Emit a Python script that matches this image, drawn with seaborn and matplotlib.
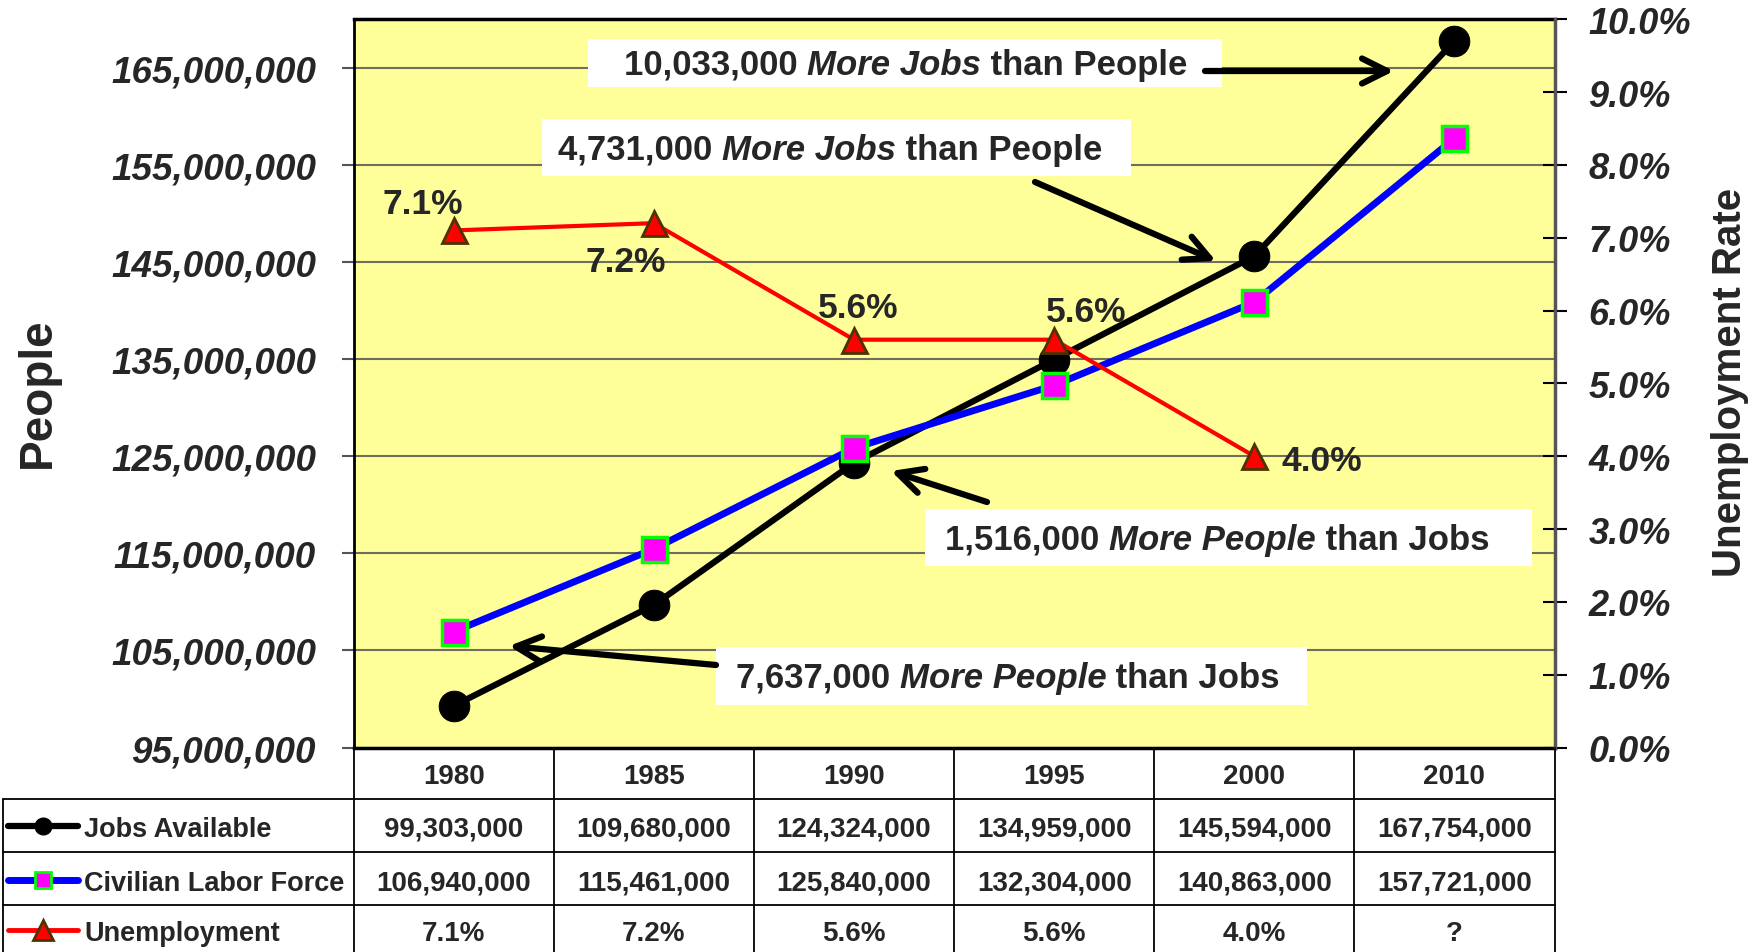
import matplotlib
matplotlib.use("Agg")
import matplotlib.pyplot as plt
import matplotlib.transforms as mtransforms
from matplotlib.lines import Line2D
from matplotlib.patches import Rectangle, FancyArrowPatch
from matplotlib.text import Annotation
import seaborn as sns
import pandas as pd
import numpy as np

# data
years = ["1980", "1985", "1990", "1995", "2000", "2010"]
jobs_available = [99303000, 109680000, 124324000, 134959000, 145594000, 167754000]
labor_force = [106940000, 115461000, 125840000, 132304000, 140863000, 157721000]
unemployment = [7.1, 7.2, 5.6, 5.6, 4.0, np.nan]

left_ticks = [95e6, 105e6, 115e6, 125e6, 135e6, 145e6, 155e6, 165e6]
right_ticks = [0, 1, 2, 3, 4, 5, 6, 7, 8, 9, 10]

callouts = [
    ("10,033,000 ", "More Jobs", " than People"),
    ("4,731,000 ", "More Jobs", " than People"),
    ("1,516,000 ", "More People", " than Jobs"),
    ("7,637,000 ", "More People", " than Jobs"),
]

W, H = 1760, 953
sns.set_theme(style="white")
plt.rcParams["font.family"] = ["Liberation Sans", "DejaVu Sans"]
plt.rcParams["font.weight"] = "bold"

df = pd.DataFrame({"pos": range(len(years)), "year": years, "jobs": jobs_available,
                   "labor": labor_force, "unemp": unemployment})

fig = plt.figure(figsize=(W / 100, H / 100), dpi=100)
fig.patch.set_facecolor("white")
ax = fig.add_axes([353.6 / W, 1 - 748.6 / H, (1554.5 - 353.6) / W, (748.6 - 20.2) / H])
px = mtransforms.Affine2D().scale(1, -1).translate(0, H)  # image pixels, y from top

ax.set_facecolor("#FFFF99")
sns.lineplot(data=df, x="pos", y="jobs", ax=ax, color="black", lw=4.5, marker="o",
             markersize=22, markeredgecolor="black", zorder=3)
sns.lineplot(data=df, x="pos", y="labor", ax=ax, color="#0000FF", lw=5, marker="s",
             markersize=18, markerfacecolor="#FF00FF", markeredgecolor="#00FF00",
             markeredgewidth=2.5, zorder=4)
ax.set_xlim(-0.5, len(years) - 0.5)
ax.set_ylim(95e6, 170e6)
ax.set_yticks(left_ticks)
ax.set_yticklabels([f"{v:,.0f}" for v in left_ticks], fontsize=26.5, fontstyle="italic",
                   fontweight="bold")
ax.set_xticks([])
ax.set_xlabel("")
ax.set_ylabel("")
ax.yaxis.grid(True, color="#6e6e5e", lw=1.5)
ax.set_axisbelow(True)
ax.tick_params(axis="y", left=True, direction="out", length=9, width=1.5,
               color="#555555", pad=18)
for side, lw in [("top", 2.5), ("left", 2), ("bottom", 2.5), ("right", 2)]:
    ax.spines[side].set_color("black")
    ax.spines[side].set_linewidth(lw)

ax2 = ax.twinx()
sns.lineplot(data=df, x="pos", y="unemp", ax=ax2, color="#FF0000", lw=3, marker="^",
             markersize=18, markerfacecolor="#FF0000", markeredgecolor="#4d3300",
             markeredgewidth=2)
ax2.set_ylim(0, 10)
ax2.set_yticks(right_ticks)
ax2.set_yticklabels([f"{v:.1f}%" for v in right_ticks], fontsize=26, fontstyle="italic",
                    fontweight="bold")
ax2.set_ylabel("")
ax2.tick_params(axis="y", right=True, direction="inout", length=17, width=1.5,
                color="black", pad=16)
for side in ["top", "left", "bottom"]:
    ax2.spines[side].set_visible(False)
ax2.spines["right"].set_color("#555555")
ax2.spines["right"].set_linewidth(2.5)

# percent labels next to the unemployment points
label_offsets = [(-31, 17), (-28, -48), (4, 23), (32, 19), (68, -14)]
for i, (u, off) in enumerate(zip(unemployment, label_offsets)):
    ax2.annotate(f"{u:.1f}%", xy=(i, u), xytext=off, textcoords="offset pixels",
                 ha="center", va="baseline", fontsize=25.5, fontweight="bold", zorder=6)

# axis titles
fig.text(38, 393, "People", transform=px, rotation=90, ha="center", va="center",
         fontsize=33, fontweight="bold")
fig.text(1730, 382, "Unemployment Rate", transform=px, rotation=90, ha="center",
         va="center", fontsize=29, fontweight="bold")

# call-out boxes with arrows
boxes = [(588, 40, 1222, 88), (542, 120, 1131, 177), (925, 510, 1532, 567), (716, 648, 1307, 706)]
text_starts = [(624, 75), (558, 160), (945, 550), (736, 688)]
arrows = [((1205, 72), (1394, 72)), ((1035, 183), (1216, 262)),
          ((987, 503), (891, 472)), ((716, 666), (509, 647))]
for (x0, y0, x1, y1), (tx, ty), (a, b), parts in zip(boxes, text_starts, arrows, callouts):
    fig.add_artist(Rectangle((x0, y0), x1 - x0, y1 - y0, transform=px,
                             facecolor="white", edgecolor="none", zorder=5))
    fig.add_artist(FancyArrowPatch(a, b, transform=px, color="black", lw=4.5,
                                   arrowstyle="->,head_length=0.9,head_width=0.45",
                                   mutation_scale=20, shrinkA=0, shrinkB=0, zorder=6))
    t1 = fig.text(tx, ty, parts[0], transform=px, ha="left", va="baseline",
                  fontsize=25, fontweight="bold", zorder=7)
    t2 = Annotation(parts[1], xy=(1, 0), xycoords=t1, ha="left", va="bottom",
                    fontsize=25, fontweight="bold", fontstyle="italic", zorder=7)
    fig.add_artist(t2)
    t3 = Annotation(parts[2], xy=(1, 0), xycoords=t2, ha="left", va="bottom",
                    fontsize=25, fontweight="bold", zorder=7)
    fig.add_artist(t3)

# data table under the chart
tbl = mtransforms.blended_transform_factory(ax.transData, px)
line_kw = dict(color="black", lw=1.3, zorder=4)
for yy in [800, 853, 906]:
    fig.add_artist(Line2D([3, 1555], [yy, yy], transform=px, **line_kw))
for xb in np.arange(-0.5, len(years), 1.0):
    fig.add_artist(Line2D([xb, xb], [749, 953], transform=tbl, **line_kw))
fig.add_artist(Line2D([3, 3], [800, 953], transform=px, **line_kw))

cell_kw = dict(ha="center", va="baseline", fontsize=20, fontweight="bold", transform=tbl)
for i, yr in enumerate(years):
    fig.text(i, 784, yr, **cell_kw)
    fig.text(i, 837, f"{jobs_available[i]:,}", **cell_kw)
    fig.text(i, 891, f"{labor_force[i]:,}", **cell_kw)
    u = unemployment[i]
    fig.text(i, 941, "?" if np.isnan(u) else f"{u:.1f}%", **cell_kw)

legend_rows = [
    ("Jobs Available", 827, dict(color="black", lw=4.5, marker="o", markersize=12,
                                 markeredgecolor="black")),
    ("Civilian Labor Force", 881, dict(color="#0000FF", lw=5, marker="s", markersize=12,
                                       markerfacecolor="#FF00FF", markeredgecolor="#00FF00",
                                       markeredgewidth=2)),
    ("Unemployment", 931, dict(color="#FF0000", lw=3.5, marker="^", markersize=15,
                               markerfacecolor="#FF0000", markeredgecolor="#4d3300",
                               markeredgewidth=2)),
]
for name, yc, style in legend_rows:
    fig.add_artist(Line2D([8, 43, 78], [yc, yc, yc], transform=px, markevery=[1],
                          solid_capstyle="round", zorder=5, **style))
    fig.text(84, yc + 10, name, transform=px, ha="left", va="baseline", fontsize=19.5,
             fontweight="bold")

fig.savefig("out.png", dpi=100)
